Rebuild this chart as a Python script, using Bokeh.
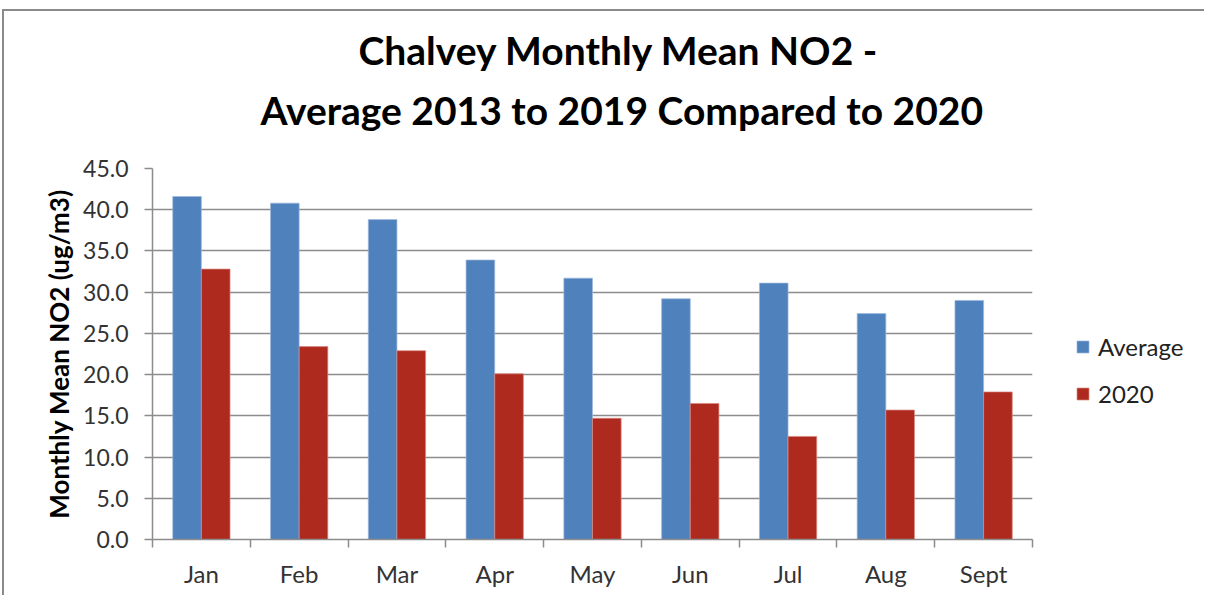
from bokeh.plotting import figure
from bokeh.layouts import row
from bokeh.models import (Range1d, LinearAxis, FixedTicker, ColumnDataSource,
                          NumeralTickFormatter, Legend, LegendItem, Title)
from bokeh.transform import dodge
from bokeh.embed import file_html
from bokeh.resources import INLINE

months = ["Jan", "Feb", "Mar", "Apr", "May", "Jun", "Jul", "Aug", "Sept"]
average = [41.6, 40.8, 38.8, 33.9, 31.7, 29.2, 31.1, 27.4, 29.0]
y2020 = [32.8, 23.4, 22.9, 20.1, 14.7, 16.5, 12.5, 15.7, 17.9]
y_ticks = [0, 5, 10, 15, 20, 25, 30, 35, 40, 45]
series_names = ["Average", "2020"]

FONT = "Lato"
BLUE = "#4F81BD"
RED = "#AE2A1E"
BLUE_EDGE = "#9fb8dd"
RED_EDGE = "#d98a80"
GRID = "#8c8c8c"

n = len(months)
centers = [i + 0.5 for i in range(n)]
edges = list(range(n + 1))

p = figure(width=1034, height=584, x_range=Range1d(0, n), y_range=Range1d(0, 45),
           x_axis_location=None, y_axis_location=None,
           output_backend="svg", toolbar_location=None,
           min_border_left=148, min_border_right=6, min_border_top=157, min_border_bottom=56)
p.outline_line_color = None
p.xgrid.grid_line_color = None

src = ColumnDataSource(dict(xc=centers, month=months, avg=average, y20=y2020))
p.vbar(x=dodge("xc", -0.1465), top="avg", width=0.293, source=src,
       fill_color=BLUE, line_color=BLUE_EDGE, line_width=0.7)
p.vbar(x=dodge("xc", 0.1465), top="y20", width=0.293, source=src,
       fill_color=RED, line_color=RED_EDGE, line_width=0.7)

# y axis
yax = LinearAxis(ticker=FixedTicker(ticks=y_ticks), formatter=NumeralTickFormatter(format="0.0"))
yax.axis_line_color = GRID
yax.axis_line_width = 1.5
yax.major_tick_line_color = GRID
yax.major_tick_line_width = 1.5
yax.major_tick_in = 0
yax.major_tick_out = 8
yax.minor_tick_line_color = None
yax.major_label_standoff = 16
yax.major_label_text_font = FONT
yax.major_label_text_font_size = "23px"
yax.major_label_text_color = "#333333"
yax.axis_label = "Monthly Mean NO2 (ug/m3)"
yax.axis_label_text_font = FONT
yax.axis_label_text_font_style = "bold"
yax.axis_label_text_font_size = "26px"
yax.axis_label_text_color = "#000000"
yax.axis_label_standoff = 5
p.add_layout(yax, "left")
p.ygrid.ticker = FixedTicker(ticks=y_ticks)
p.ygrid.grid_line_color = GRID
p.ygrid.grid_line_width = 1.5

# x axis: month labels at category centres, boundary ticks as minor ticks
xax = LinearAxis(ticker=FixedTicker(ticks=centers, minor_ticks=edges),
                 major_label_overrides={c: m for c, m in zip(centers, months)})
xax.axis_line_color = GRID
xax.axis_line_width = 1.5
xax.major_tick_line_color = None
xax.major_tick_in = 0
xax.major_tick_out = 0
xax.minor_tick_line_color = GRID
xax.minor_tick_line_width = 1.5
xax.minor_tick_in = 0
xax.minor_tick_out = 8
xax.major_label_standoff = 11
xax.major_label_text_font = FONT
xax.major_label_text_font_size = "24px"
xax.major_label_text_color = "#333333"
p.add_layout(xax, "below")

# titles (left-aligned with offsets so they sit where the reference has them)
t2 = Title(text="Average 2013 to 2019 Compared to 2020", align="left", offset=108,
           text_font=FONT, text_font_size="39px", text_font_style="bold",
           text_color="#000000", standoff=71)
t1 = Title(text="Chalvey Monthly Mean NO2 -", align="left", offset=206,
           text_font=FONT, text_font_size="39px", text_font_style="bold",
           text_color="#000000", standoff=-46)
p.add_layout(t2, "above")
p.add_layout(t1, "above")

# legend panel to the right of the chart (hidden copies of the two series feed the legend)
lg = figure(width=166, height=584, x_range=Range1d(0, 1), y_range=Range1d(0, 1),
            x_axis_location=None, y_axis_location=None,
            output_backend="svg", toolbar_location=None,
            min_border_left=0, min_border_right=0, min_border_top=0, min_border_bottom=0)
lg.outline_line_color = None
lg.xgrid.grid_line_color = None
lg.ygrid.grid_line_color = None
k1 = lg.vbar(x=dodge("xc", -0.1465), top="avg", width=0.293, source=src,
             fill_color=BLUE, line_color=BLUE_EDGE, line_width=0.7, visible=False)
k2 = lg.vbar(x=dodge("xc", 0.1465), top="y20", width=0.293, source=src,
             fill_color=RED, line_color=RED_EDGE, line_width=0.7, visible=False)
legend = Legend(items=[LegendItem(label=series_names[0], renderers=[k1]),
                       LegendItem(label=series_names[1], renderers=[k2])],
                location=(37, 131), border_line_color=None, background_fill_alpha=0,
                inactive_fill_alpha=0, padding=0, margin=0, label_standoff=8,
                glyph_width=15, glyph_height=15, spacing=18, label_text_font=FONT,
                label_text_font_size="24px", label_text_color="#222222")
lg.add_layout(legend, "center")

layout = row(p, lg, spacing=0)
layout.stylesheets = [":host { margin: 9px 0 0 2px; border-left: 2px solid #8a8a8a; border-top: 2px solid #8a8a8a; }"]

open("out.html", "w").write(file_html(layout, INLINE))
